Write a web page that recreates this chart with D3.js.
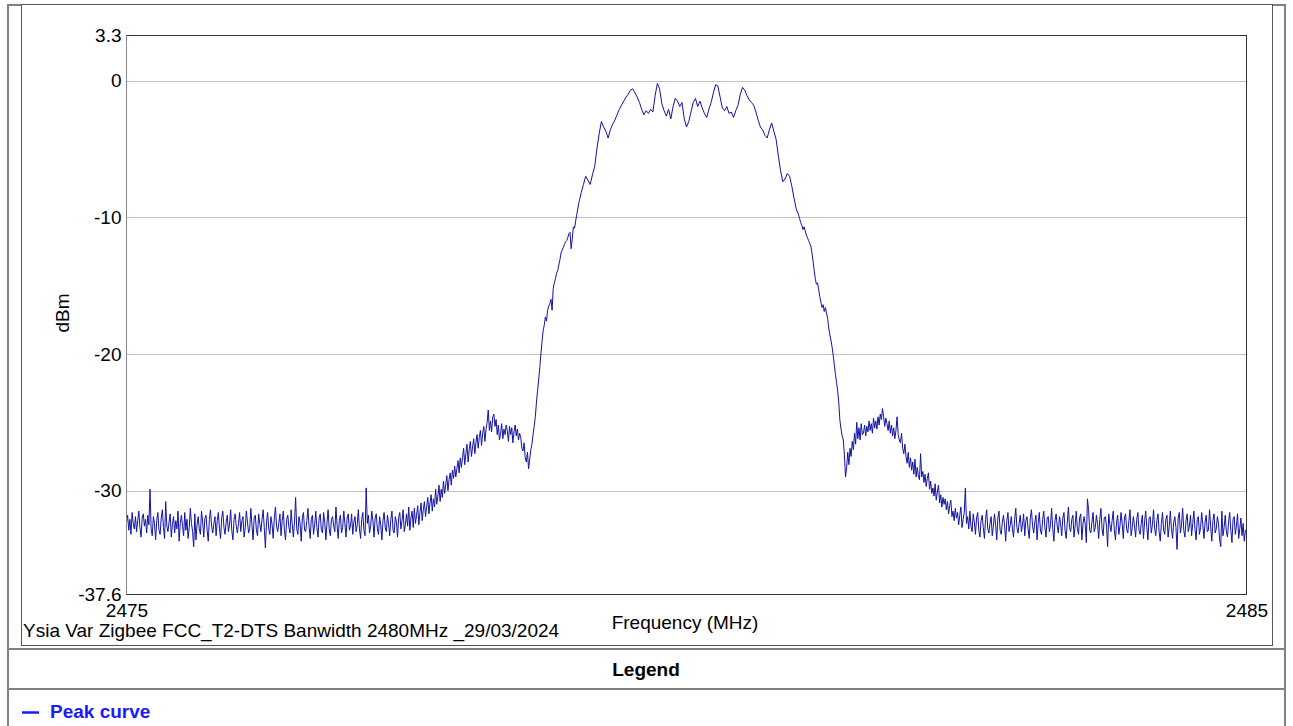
<!DOCTYPE html>
<html>
<head>
<meta charset="utf-8">
<script src="https://cdn.jsdelivr.net/npm/d3@7"></script>
<style>
  body { margin: 0; background: #fff; }
  svg { display: block; font-family: "Liberation Sans", Arial, sans-serif; }
</style>
</head>
<body>
<svg id="chart" width="1293" height="726"></svg>
<script>
// sweep limits (MHz) and level axis (dBm)
const freqStart = 2475;
const freqStop = 2485;
const levelMin = -37.6;
const levelMax = 3.3;
const yTicks = [3.3, 0, -10, -20, -30, -37.6];
const gridLevels = [0, -10, -20, -30];
const xTicks = [2475, 2485];

// peak curve, one array per MHz, points evenly spaced inside each MHz
const seg2475 = [
  -32.3,-31.8,-32.9,-32.1,-33.2,-31.6,-32.4,-32.8,-31.9,-33.0,
  -32.2,-31.5,-32.7,-33.4,-32.0,-31.7,-32.6,-32.1,-33.1,-31.8,
  -32.5,-29.9,-32.8,-33.3,-31.9,-32.4,-33.6,-32.2,-31.6,-32.9,
  -33.2,-32.0,-31.4,-32.7,-33.5,-30.8,-32.6,-33.0,-32.3,-31.7,
  -33.4,-32.5,-31.9,-33.1,-32.2,-32.8,-31.5,-33.7,-32.4,-31.8,
  -32.6,-33.3,-31.6,-32.9,-32.1,-33.5,-32.7,-31.3,-32.4,-33.0,
  -34.1,-31.7,-33.6,-32.5,-31.9,-32.8,-33.2,-31.5,-32.3,-33.4,
  -32.0,-31.8,-32.9,-33.7,-32.1,-31.4,-32.6,-33.1,-32.4,-31.9,
  -33.3,-32.2,-31.6,-32.8,-33.5,-32.0,-31.5,-32.7,-33.2,-32.3,
  -31.8,-33.0,-32.5,-31.4,-32.9,-33.6,-32.1,-31.7,-32.6,-33.1];
const seg2476 = [
  -32.4,-31.6,-33.0,-32.2,-31.9,-33.4,-32.7,-31.5,-32.3,-33.1,
  -32.8,-31.3,-32.5,-33.6,-32.0,-31.8,-32.9,-33.3,-31.7,-32.4,
  -33.0,-32.1,-31.4,-32.7,-34.2,-32.3,-31.6,-32.8,-33.2,-31.9,
  -32.5,-33.5,-32.0,-31.2,-32.6,-33.0,-32.4,-31.7,-33.3,-32.2,
  -31.5,-32.9,-33.6,-32.1,-31.8,-32.7,-33.1,-31.4,-32.5,-33.4,
  -32.3,-30.5,-32.8,-33.2,-31.9,-32.4,-33.7,-32.0,-31.6,-32.9,
  -33.0,-32.2,-31.3,-32.6,-33.5,-32.1,-31.8,-33.2,-32.5,-31.5,
  -32.7,-33.4,-32.0,-31.7,-32.9,-33.1,-31.6,-32.3,-33.6,-32.4,
  -31.4,-32.8,-33.3,-32.1,-31.9,-32.6,-33.0,-31.2,-32.5,-33.5,
  -32.2,-31.8,-33.1,-32.7,-31.5,-32.4,-33.4,-32.0,-31.7,-32.9];
const seg2477 = [
  -32.6,-31.7,-33.2,-32.3,-31.9,-33.0,-32.5,-31.4,-32.8,-33.5,
  -32.1,-31.6,-32.9,-33.3,-29.8,-32.4,-31.8,-33.1,-32.6,-31.5,
  -32.2,-33.4,-32.0,-31.7,-32.8,-33.2,-31.9,-32.5,-33.6,-32.2,
  -31.6,-32.7,-33.0,-31.8,-32.4,-33.3,-32.1,-31.5,-32.9,-33.1,
  -31.9,-32.3,-33.4,-32.0,-31.6,-32.8,-32.2,-31.4,-33.0,-32.5,
  -31.7,-32.6,-31.2,-32.9,-32.0,-31.5,-32.7,-31.3,-32.4,-31.8,
  -31.1,-32.5,-31.6,-30.9,-32.2,-31.4,-30.8,-31.9,-31.2,-30.5,
  -31.7,-30.9,-30.3,-31.5,-30.6,-31.2,-29.9,-31.0,-30.4,-29.6,
  -30.8,-29.9,-30.5,-29.3,-30.2,-29.6,-28.9,-30.0,-29.2,-28.7,
  -29.6,-28.5,-29.1,-28.2,-29.0,-28.4,-27.8,-28.7,-27.6,-28.3];
const seg2478 = [
  -27.6,-26.9,-28.1,-27.3,-26.6,-27.9,-27.0,-26.4,-27.5,-26.8,
  -26.2,-27.3,-26.5,-25.9,-26.9,-26.1,-25.6,-26.7,-25.8,-25.3,
  -26.4,-25.5,-25.0,-24.1,-25.6,-24.9,-25.7,-24.6,-24.4,-25.3,
  -24.8,-25.9,-25.2,-26.3,-25.8,-25.1,-26.2,-25.5,-25.9,-25.2,
  -25.6,-26.4,-25.3,-25.9,-25.4,-26.5,-25.7,-25.2,-26.0,-25.5,
  -26.3,-25.8,-26.1,-26.9,-27.1,-26.5,-27.6,-27.9,-27.2,-28.4,
  -27.7,-27.0,-26.6,-25.9,-25.3,-24.6,-23.6,-22.7,-21.9,-21.0,
  -20.0,-19.1,-18.3,-17.9,-17.3,-17.6,-16.8,-16.5,-16.3,-16.0,
  -16.8,-15.2,-14.8,-14.5,-14.1,-13.9,-13.5,-13.1,-12.6,-12.4,
  -12.2,-12.0,-11.8,-11.7,-11.5,-11.2,-11.1,-12.3,-11.6,-10.7];
const seg2479 = [
  -10.8,-9.8,-8.9,-8.2,-7.6,-7.0,-7.3,-7.6,-6.9,-6.3,
  -5.0,-3.9,-3.0,-3.4,-3.7,-4.2,-3.6,-3.2,-2.9,-2.5,
  -2.1,-1.8,-1.5,-1.2,-1.0,-0.7,-0.6,-0.9,-1.2,-1.6,
  -2.1,-2.5,-2.2,-2.4,-2.1,-2.3,-1.1,-0.2,-0.6,-1.7,
  -2.2,-2.6,-2.1,-2.8,-1.9,-1.3,-1.5,-1.9,-1.6,-2.8];
const seg2480 = [
  -3.4,-3.0,-2.3,-1.6,-1.3,-1.9,-1.5,-2.0,-2.4,-2.7,
  -2.1,-1.6,-0.9,-0.3,-0.4,-1.2,-2.0,-2.2,-1.9,-2.4,
  -2.3,-2.7,-2.2,-1.8,-1.0,-0.5,-0.7,-1.1,-1.4,-1.6,
  -1.8,-2.3,-2.9,-3.4,-3.6,-4.0,-4.2,-3.6,-3.1,-3.7,
  -4.3,-5.5,-6.6,-7.4,-7.2,-6.8,-7.0,-7.7,-8.6,-9.4];
const seg2481 = [
  -9.8,-10.1,-10.4,-10.6,-10.9,-10.7,-11.0,-11.3,-11.5,-11.7,
  -11.9,-12.1,-12.6,-13.2,-13.9,-14.5,-14.9,-14.8,-15.3,-15.8,
  -16.2,-16.6,-16.4,-16.9,-16.6,-17.0,-17.4,-18.1,-18.6,-19.0,
  -19.5,-20.1,-20.8,-21.5,-22.1,-22.7,-23.6,-24.9,-25.5,-26.0,
  -26.3,-27.4,-29.0,-28.3,-27.2,-28.1,-26.9,-27.5,-26.4,-27.0,
  -25.8,-26.6,-25.0,-26.2,-25.4,-26.3,-25.1,-25.9,-25.8,-25.2,
  -26.0,-25.3,-25.7,-24.9,-25.6,-25.1,-25.8,-24.7,-25.4,-24.9,
  -25.5,-24.6,-25.2,-24.4,-24.8,-24.0,-24.6,-25.3,-24.7,-25.1,
  -25.6,-24.9,-25.8,-25.2,-26.0,-25.4,-26.2,-25.6,-24.6,-25.9,
  -26.3,-26.5,-25.8,-26.9,-27.3,-26.6,-27.5,-28.0,-27.2,-28.3];
const seg2482 = [
  -27.6,-28.5,-27.9,-28.8,-27.7,-29.0,-28.3,-28.9,-29.2,-27.3,
  -29.0,-28.6,-29.4,-28.8,-29.7,-29.1,-28.7,-29.9,-29.3,-30.2,
  -29.8,-30.4,-29.5,-30.7,-30.1,-29.6,-30.9,-30.3,-31.2,-30.5,
  -31.0,-30.6,-31.4,-30.8,-31.7,-31.1,-30.7,-31.9,-31.5,-32.2,
  -31.3,-32.0,-31.6,-32.5,-31.8,-31.2,-32.7,-32.1,-31.6,-29.8,
  -32.4,-31.9,-32.8,-31.5,-32.6,-33.0,-31.7,-32.3,-33.2,-32.0,
  -31.6,-32.9,-33.4,-32.2,-31.8,-32.7,-33.5,-32.1,-31.4,-32.8,
  -33.1,-32.4,-31.9,-33.3,-32.6,-31.7,-32.5,-33.6,-32.0,-31.5,
  -32.9,-33.2,-32.3,-31.8,-32.6,-33.7,-32.2,-31.6,-33.0,-32.5,
  -31.9,-32.8,-33.4,-32.1,-31.3,-32.7,-33.1,-32.4,-31.8,-33.0];
const seg2483 = [
  -32.5,-31.7,-33.3,-32.2,-31.9,-32.8,-33.5,-32.0,-31.4,-32.6,
  -33.1,-32.3,-31.8,-33.6,-32.4,-31.6,-32.9,-33.2,-32.1,-31.5,
  -32.7,-33.4,-32.0,-31.9,-33.0,-32.5,-31.3,-32.8,-33.7,-32.2,
  -31.7,-32.6,-33.1,-31.9,-32.4,-33.3,-32.0,-31.6,-32.9,-33.5,
  -32.3,-31.2,-32.7,-33.0,-32.1,-31.8,-33.4,-32.6,-31.5,-32.8,
  -33.2,-32.0,-31.7,-33.6,-32.4,-31.9,-32.5,-33.8,-30.6,-31.4,
  -32.9,-33.1,-32.3,-31.6,-33.0,-32.7,-31.8,-32.4,-33.5,-32.1,
  -31.3,-32.8,-33.3,-32.0,-31.9,-32.6,-34.1,-31.7,-32.5,-33.0,
  -32.2,-31.5,-32.9,-33.6,-32.3,-31.8,-33.2,-32.6,-31.6,-32.4,
  -33.5,-32.0,-31.7,-32.8,-33.1,-32.2,-31.4,-33.3,-32.7,-31.9];
const seg2484 = [
  -32.6,-33.4,-32.1,-31.6,-32.9,-33.2,-32.4,-31.8,-33.5,-32.3,
  -31.5,-32.7,-33.6,-32.0,-31.9,-33.1,-32.5,-31.4,-32.8,-33.3,
  -32.2,-31.7,-33.0,-33.7,-32.4,-31.6,-32.9,-33.2,-32.1,-31.8,
  -33.4,-32.6,-31.5,-32.8,-33.5,-32.3,-31.9,-32.7,-34.3,-32.0,
  -31.6,-33.1,-32.5,-31.3,-32.9,-33.4,-32.2,-31.7,-33.0,-32.6,
  -31.8,-33.3,-32.4,-31.5,-32.8,-33.6,-32.1,-31.9,-33.2,-32.7,
  -31.6,-32.5,-33.5,-32.3,-31.8,-33.0,-32.9,-31.4,-32.6,-33.7,
  -32.2,-31.7,-33.1,-32.8,-31.9,-32.4,-33.6,-34.1,-31.5,-33.3,
  -32.7,-31.8,-33.0,-33.4,-32.3,-31.6,-32.9,-33.8,-32.1,-31.9,
  -33.2,-32.6,-31.7,-33.5,-32.8,-32.0,-33.3,-32.4,-33.7,-32.9];
const endLevel = -33.0;

const caption = "Ysia Var Zigbee FCC_T2-DTS Banwidth 2480MHz _29/03/2024";
const xTitle = "Frequency (MHz)";
const yTitle = "dBm";
const seriesName = "Peak curve";

const segments = [seg2475, seg2476, seg2477, seg2478, seg2479,
  seg2480, seg2481, seg2482, seg2483, seg2484];
const trace = [];
segments.forEach((seg, k) => {
  seg.forEach((v, i) => trace.push({ f: freqStart + k + i / seg.length, v: v }));
});
trace.push({ f: freqStop, v: endLevel });

const svg = d3.select("#chart");
const fs = 19;

// outer table frame + rows
const frame = svg.append("g").attr("fill", "none").attr("stroke", "#808080").attr("stroke-width", 2);
frame.append("rect").attr("x", 8).attr("y", 5).attr("width", 1277).attr("height", 730);
frame.append("line").attr("x1", 8).attr("x2", 1285).attr("y1", 649).attr("y2", 649);
frame.append("line").attr("x1", 8).attr("x2", 1285).attr("y1", 689).attr("y2", 689);

// chart panel
svg.append("rect")
  .attr("x", 21.5).attr("y", 4.5).attr("width", 1251).attr("height", 641)
  .attr("fill", "#fff").attr("stroke", "#555").attr("stroke-width", 1);

const x = d3.scaleLinear().domain([freqStart, freqStop]).range([126.5, 1246.5]);
const y = d3.scaleLinear().domain([levelMin, levelMax]).range([594.5, 35.5]);

// grid
svg.append("g")
  .selectAll("line")
  .data(gridLevels)
  .join("line")
  .attr("x1", x(freqStart)).attr("x2", x(freqStop))
  .attr("y1", d => Math.round(y(d)) + 0.5).attr("y2", d => Math.round(y(d)) + 0.5)
  .attr("stroke", "#c0c0c0").attr("stroke-width", 1);

// trace
const line = d3.line().x(d => x(d.f)).y(d => y(d.v));
svg.append("path")
  .datum(trace)
  .attr("d", line)
  .attr("fill", "none")
  .attr("stroke", "#1212a4")
  .attr("stroke-width", 1);

// plot border
svg.append("rect")
  .attr("x", 126.5).attr("y", 35.5).attr("width", 1120).attr("height", 559)
  .attr("fill", "none").attr("stroke", "#333").attr("stroke-width", 1);
svg.append("line")
  .attr("x1", 126.5).attr("x2", 126.5).attr("y1", 35.5).attr("y2", 594.5)
  .attr("stroke", "#888");

// axes
const yAxis = svg.append("g")
  .attr("transform", "translate(126.5,0)")
  .call(d3.axisLeft(y).tickValues(yTicks).tickSize(0).tickPadding(5).tickFormat(d => String(d)));
const xAxis = svg.append("g")
  .attr("transform", "translate(0,594.5)")
  .call(d3.axisBottom(x).tickValues(xTicks).tickSize(0).tickPadding(9).tickFormat(d => String(d)));
[yAxis, xAxis].forEach(a => {
  a.select(".domain").remove();
  a.selectAll("text").attr("font-size", fs).attr("fill", "#000")
    .attr("font-family", '"Liberation Sans", Arial, sans-serif');
});

// titles
svg.append("text")
  .attr("x", 685).attr("y", 629)
  .attr("text-anchor", "middle").attr("font-size", fs)
  .text(xTitle);
svg.append("text")
  .attr("transform", "translate(69,313) rotate(-90)")
  .attr("text-anchor", "middle").attr("font-size", fs)
  .text(yTitle);
svg.append("text")
  .attr("x", 23).attr("y", 637)
  .attr("font-size", fs)
  .text(caption);

// legend
svg.append("text")
  .attr("x", 646).attr("y", 676)
  .attr("text-anchor", "middle").attr("font-size", fs).attr("font-weight", "bold")
  .text("Legend");
svg.append("line")
  .attr("x1", 22).attr("x2", 39).attr("y1", 712.5).attr("y2", 712.5)
  .attr("stroke", "#1a1aff").attr("stroke-width", 2.5);
svg.append("text")
  .attr("x", 50).attr("y", 718)
  .attr("font-size", fs).attr("font-weight", "bold").attr("fill", "#1a1aff")
  .text(seriesName);
</script>
</body>
</html>
